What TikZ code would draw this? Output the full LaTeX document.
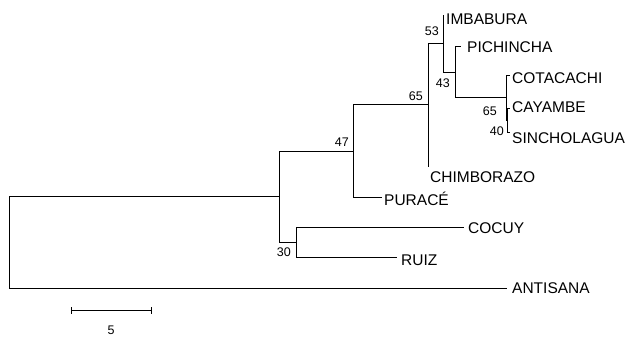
\documentclass[tikz,border=0pt]{standalone}
\usepackage{fontspec}
\setmainfont{Liberation Sans}
\begin{document}
\begin{tikzpicture}[x=1pt,y=-1pt,
  branch/.style={draw=black,line width=0.95pt},
  taxon/.style={anchor=base west,inner sep=0pt,font=\fontsize{15.5}{18}\selectfont},
  support/.style={anchor=base east,inner sep=0pt,font=\fontsize{12.5}{14}\selectfont}]
\useasboundingbox (0,0) rectangle (627,338);
% internal nodes
\coordinate (root) at (9,242.25);
\coordinate (nA) at (279,196.5);
\coordinate (n47) at (353,151);
\coordinate (n65) at (428,104.75);
\coordinate (n53) at (443.3,43.5);
\coordinate (n43) at (455,72.2);
\coordinate (n65b) at (506,97.6);
\coordinate (n40) at (507.7,120);
\coordinate (n30) at (296,242);
% leaves
\coordinate (lIMB) at (444,15);
\coordinate (lPIC) at (461,46.7);
\coordinate (lCOT) at (509.5,75);
\coordinate (lCAY) at (509.5,108);
\coordinate (lSIN) at (509.5,132);
\coordinate (lCHI) at (429,166);
\coordinate (lPUR) at (382,197);
\coordinate (lCOC) at (464,227);
\coordinate (lRUI) at (397,257);
\coordinate (lANT) at (507,288);
% branches
\draw[branch] (root) |- (nA);
\draw[branch] (root) |- (lANT);
\draw[branch] (nA) |- (n47);
\draw[branch] (nA) |- (n30);
\draw[branch] (n30) |- (lCOC);
\draw[branch] (n30) |- (lRUI);
\draw[branch] (n47) |- (n65);
\draw[branch] (n47) |- (lPUR);
\draw[branch] (n65) |- (n53);
\draw[branch] (n65) |- (lCHI);
\draw[branch] (n53) |- (lIMB);
\draw[branch] (n53) |- (n43);
\draw[branch] (n43) |- (lPIC);
\draw[branch] (n43) |- (n65b);
\draw[branch] (n65b) |- (lCOT);
\draw[branch] (n65b) |- (n40);
\draw[branch] (n40) |- (lCAY);
\draw[branch] (n40) |- (lSIN);
% taxon labels
\node[taxon] (tIMB) at (446,24.6) {IMBABURA};
\node[taxon] (tPIC) at (467,52.3) {PICHINCHA};
\node[taxon] (tCOT) at (512,83.2) {COTACACHI};
\node[taxon] (tCAY) at (512,112.8) {CAYAMBE};
\node[taxon] (tSIN) at (512,143) {SINCHOLAGUA};
\node[taxon] (tCHI) at (430,182.5) {CHIMBORAZO};
\node[taxon] (tPUR) at (384,205.5) {PURACÉ};
\node[taxon] (tCOC) at (468,233.5) {COCUY};
\node[taxon] (tRUI) at (401,265.2) {RUIZ};
\node[taxon] (tANT) at (512,293.8) {ANTISANA};
% support values
\node[support] (s53) at (439,35.3) {53};
\node[support] (s43) at (450,87.8) {43};
\node[support] (s65b) at (497,115.3) {65};
\node[support] (s40) at (504,135.8) {40};
\node[support] (s65) at (423,100.3) {65};
\node[support] (s47) at (349,146.3) {47};
\node[support] (s30) at (291,256.3) {30};
% scale bar
\coordinate (sb1) at (71,310);
\coordinate (sb2) at (151,310);
\draw[branch] (sb1) -- (sb2);
\draw[branch] ([yshift=-3.5pt]sb1) -- ([yshift=3.5pt]sb1);
\draw[branch] ([yshift=-3.5pt]sb2) -- ([yshift=3.5pt]sb2);
\node[anchor=base,inner sep=0pt,font=\fontsize{12.5}{14}\selectfont] (sblabel) at (111,334.3) {5};
\end{tikzpicture}
\end{document}
